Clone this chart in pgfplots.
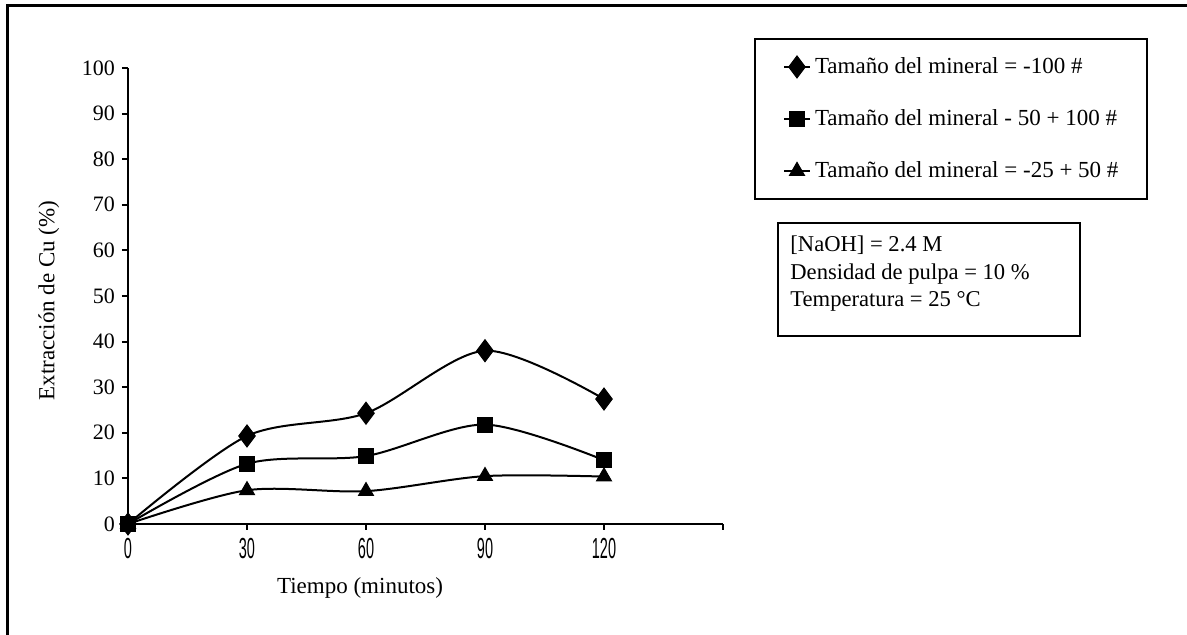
\documentclass[border=0pt]{standalone}
\usepackage{fontspec}
\setmainfont{Liberation Serif}
\newfontfamily\narrowsans[FakeStretch=0.5]{Liberation Sans}
\usepackage{pgfplots}
\pgfplotsset{compat=1.18}

\begin{document}
\begin{tikzpicture}
\useasboundingbox (0,0) rectangle (593.5pt,317.5pt);
% outer frame
\draw[line width=1.5pt] (3.75pt,-20pt) rectangle (640pt,314.75pt);

\begin{axis}[
  at={(64pt,55.5pt)}, anchor=south west,
  scale only axis, width=297.5pt, height=228pt,
  xmin=0, xmax=150, ymin=0, ymax=100,
  xtick={0,30,60,90,120,150},
  xticklabels={0,30,60,90,120,},
  ytick={0,10,...,100},
  tick align=outside, major tick length=3pt,
  every tick/.style={line width=1pt, black},
  axis line style={line width=1pt},
  axis x line*=bottom, axis y line*=left,
  clip=false,
  tick label style={font=\fontsize{11}{12}\selectfont},
  xticklabel style={font=\narrowsans\fontsize{14.5}{15}\selectfont, yshift=-0.5pt},
  /pgf/number format/assume math mode=true,
  xlabel={Tiempo (minutos)},
  ylabel={Extracción de Cu (\%)},
  label style={font=\fontsize{11.5}{13}\selectfont},
  xlabel style={at={(axis description cs:0.39,-0.14)}, anchor=center},
  ylabel style={at={(axis description cs:-0.133,0.49)}, anchor=center},
  every axis plot/.append style={line width=1pt, black, smooth},
  legend image code/.code={\draw[mark repeat=2,mark phase=2,smooth=false] plot coordinates {(0pt,0pt)(6.5pt,0pt)(13pt,0pt)};},
  legend style={at={(1.0521,1.0658)}, anchor=north west, draw=black, line width=1pt,
    font=\fontsize{11.5}{13}\selectfont, inner xsep=14pt, inner ysep=1pt,
    cells={anchor=west, minimum height=26pt}, row sep=0pt},
  legend cell align=left,
]
\addplot[mark=diamond*, mark size=5.5pt, mark options={fill=black, line width=0.5pt}]
  coordinates {(0,0) (30,19.3) (60,24.3) (90,38.0) (120,27.4)};
\addlegendentry{\makebox[150pt][l]{Tamaño del mineral = -100 \#}}
\addplot[mark=square*, mark size=3.75pt, mark options={fill=black, line width=0.5pt}]
  coordinates {(0,0) (30,13.2) (60,14.9) (90,21.8) (120,14.0)};
\addlegendentry{\makebox[150pt][l]{Tamaño del mineral - 50 + 100 \#}}
\addplot[mark=triangle*, mark size=4.3pt, mark options={fill=black, line width=0.5pt}]
  coordinates {(0,0) (30,7.4) (60,7.2) (90,10.5) (120,10.4)};
\addlegendentry{\makebox[150pt][l]{Tamaño del mineral = -25 + 50 \#}}
\end{axis}

% conditions box
\draw[line width=0.8pt] (389pt,149.5pt) rectangle (540pt,206pt);
\begin{scope}[every node/.style={anchor=base west, inner sep=0pt, font=\fontsize{11.3}{13}\selectfont}]
\node at (395pt,191.6pt) {[NaOH] = 2.4 M};
\node at (395pt,177.5pt) {Densidad de pulpa = 10 \%};
\node at (395pt,164.2pt) {Temperatura = 25 °C};
\end{scope}
\end{tikzpicture}
\end{document}
